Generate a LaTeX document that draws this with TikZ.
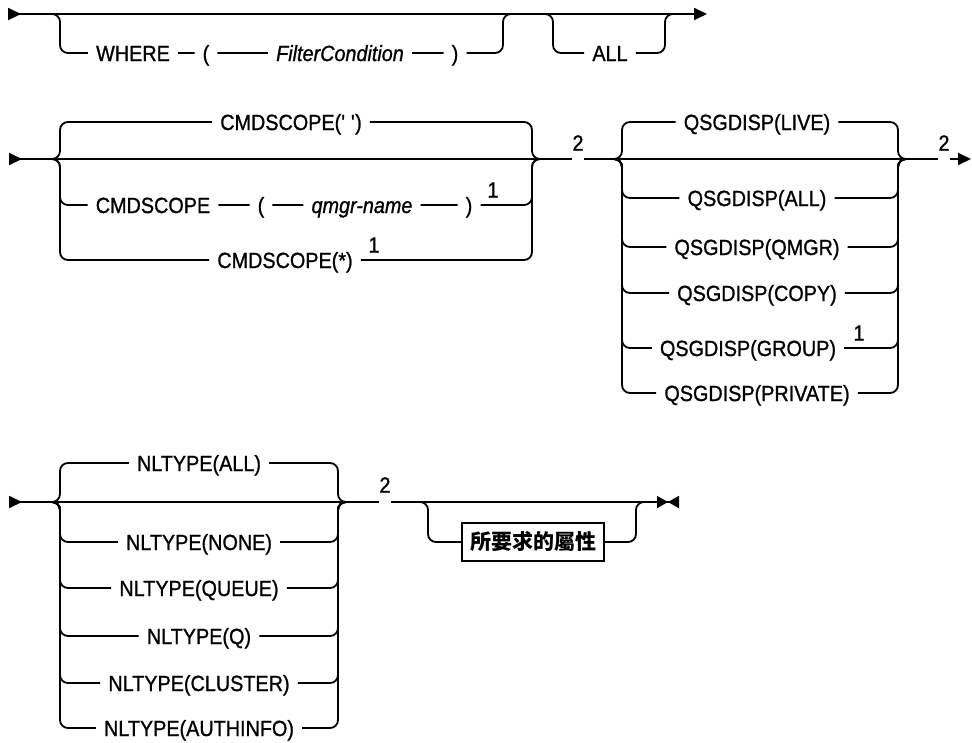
\documentclass[tikz,border=0pt]{standalone}
\usepackage{fontspec}
\setmainfont{Liberation Sans}
\newfontfamily\railfont{Liberation Sans}[FakeStretch=0.9, FakeBold=1]
\newfontfamily\cjk{Noto Sans CJK TC}
\usetikzlibrary{arrows.meta}

\tikzset{
  rail/.style={line width=1.8pt, rounded corners=8pt},
  kw/.style={font=\fontsize{22}{26}\selectfont\railfont, inner xsep=8pt, inner ysep=0pt,
    text height=16pt, text depth=0pt},
  var/.style={kw, font=\fontsize{22}{26}\selectfont\railfont\itshape},
  num/.style={font=\fontsize{22}{26}\selectfont\railfont, inner sep=0pt},
  gap/.style={inner sep=0pt, minimum width=11pt, minimum height=0pt},
  attrbox/.style={draw, line width=1.8pt, font=\fontsize{21}{24}\selectfont\cjk\bfseries,
    inner xsep=8pt, inner ysep=0pt, text height=17pt, text depth=3pt, minimum height=38pt},
}

\begin{document}
\begin{tikzpicture}[x=1pt,y=-1pt,>={Triangle[length=13pt,width=12pt]}]
  \useasboundingbox (0,0) rectangle (972,742);

  % first line: WHERE and ALL
  \coordinate (s1) at (8,14);
  \coordinate (e1) at (707,14);
  \coordinate (wL) at (60,14);
  \coordinate (wR) at (503,14);
  \coordinate (aL) at (553,14);
  \coordinate (aR) at (665,14);
  \node[kw] (where) at (133,53) {WHERE};
  \node[kw] (wopen) at (206,53) {(};
  \node[var] (filter) at (340,53) {FilterCondition};
  \node[kw] (wclose) at (455,53) {)};
  \node[kw] (all) at (610,53) {ALL};
  \draw[rail,>->] (s1) -- (e1);
  \draw[rail] ([xshift=-10pt]wL) -- (wL) |- (where);
  \draw[rail] (where) -- (wopen) -- (filter) -- (wclose) -| (wR) -- ([xshift=10pt]wR);
  \draw[rail] ([xshift=-10pt]aL) -- (aL) |- (all) -| (aR) -- ([xshift=10pt]aR);

  % second line: CMDSCOPE and QSGDISP
  \coordinate (s2) at (9,159);
  \coordinate (cL) at (60,159);
  \coordinate (cR) at (532,159);
  \coordinate (qL) at (622,159);
  \coordinate (qR) at (898,159);
  \coordinate (e2) at (971,159);
  \node[gap] (g2a) at (578,159) {};
  \node[num] (t2a) at (578,143) {2};
  \node[gap] (g2b) at (944,159) {};
  \node[num] (t2b) at (944,143) {2};
  \draw[rail,>-] (s2) -- (g2a);
  \draw[rail] (g2a) -- (g2b);
  \draw[rail,->] (g2b) -- (e2);

  \node[kw] (cs0) at (291,122) {CMDSCOPE(\textquotesingle{} \textquotesingle)};
  \node[kw] (cs1) at (153,205) {CMDSCOPE};
  \node[kw] (cs1o) at (261,205) {(};
  \node[var] (qmgr) at (362,205) {qmgr-name};
  \node[kw] (cs1c) at (469,205) {)};
  \node[num] (t1a) at (493,190) {1};
  \node[kw] (cs2) at (285,260) {CMDSCOPE(*)};
  \node[num] (t1b) at (374,245) {1};
  \draw[rail] ([xshift=-10pt]cL) -- (cL) |- (cs0) -| (cR) -- ([xshift=10pt]cR);
  \draw[rail] ([xshift=-10pt]cL) -- (cL) |- (cs1);
  \draw[rail] (cs1) -- (cs1o) -- (qmgr) -- (cs1c) -| (cR) -- ([xshift=10pt]cR);
  \draw[rail] ([xshift=-10pt]cL) -- (cL) |- (cs2) -| (cR) -- ([xshift=10pt]cR);

  \node[kw] (q0) at (757,122) {QSGDISP(LIVE)};
  \node[kw] (q1) at (757,198) {QSGDISP(ALL)};
  \node[kw] (q2) at (757,247) {QSGDISP(QMGR)};
  \node[kw] (q3) at (757,293) {QSGDISP(COPY)};
  \node[kw] (q4) at (748,348) {QSGDISP(GROUP)};
  \node[num] (t1c) at (859,333) {1};
  \node[kw] (q5) at (757,393) {QSGDISP(PRIVATE)};
  \draw[rail] ([xshift=-10pt]qL) -- (qL) |- (q0) -| (qR) -- ([xshift=10pt]qR);
  \draw[rail] ([xshift=-10pt]qL) -- (qL) |- (q1) -| (qR) -- ([xshift=10pt]qR);
  \draw[rail] ([xshift=-10pt]qL) -- (qL) |- (q2) -| (qR) -- ([xshift=10pt]qR);
  \draw[rail] ([xshift=-10pt]qL) -- (qL) |- (q3) -| (qR) -- ([xshift=10pt]qR);
  \draw[rail] ([xshift=-10pt]qL) -- (qL) |- (q4) -| (qR) -- ([xshift=10pt]qR);
  \draw[rail] ([xshift=-10pt]qL) -- (qL) |- (q5) -| (qR) -- ([xshift=10pt]qR);

  % third line: NLTYPE and attributes
  \coordinate (s3) at (9,502);
  \coordinate (nL) at (60,502);
  \coordinate (nR) at (338,502);
  \coordinate (oL) at (428,502);
  \coordinate (oR) at (636,502);
  \coordinate (e3) at (679,502);
  \node[gap] (g2c) at (385,502) {};
  \node[num] (t2c) at (385,485) {2};
  \draw[rail,>-] (s3) -- (g2c);
  \draw[rail,-{Triangle[length=11pt,width=12pt,sep=0pt]Triangle[reversed,length=11pt,width=12pt]}] (g2c) -- (e3);

  \node[kw] (n0) at (199,463) {NLTYPE(ALL)};
  \node[kw] (n1) at (199,542) {NLTYPE(NONE)};
  \node[kw] (n2) at (199,588) {NLTYPE(QUEUE)};
  \node[kw] (n3) at (199,636) {NLTYPE(Q)};
  \node[kw] (n4) at (199,683) {NLTYPE(CLUSTER)};
  \node[kw] (n5) at (199,728) {NLTYPE(AUTHINFO)};
  \draw[rail] ([xshift=-10pt]nL) -- (nL) |- (n0) -| (nR) -- ([xshift=10pt]nR);
  \draw[rail] ([xshift=-10pt]nL) -- (nL) |- (n1) -| (nR) -- ([xshift=10pt]nR);
  \draw[rail] ([xshift=-10pt]nL) -- (nL) |- (n2) -| (nR) -- ([xshift=10pt]nR);
  \draw[rail] ([xshift=-10pt]nL) -- (nL) |- (n3) -| (nR) -- ([xshift=10pt]nR);
  \draw[rail] ([xshift=-10pt]nL) -- (nL) |- (n4) -| (nR) -- ([xshift=10pt]nR);
  \draw[rail] ([xshift=-10pt]nL) -- (nL) |- (n5) -| (nR) -- ([xshift=10pt]nR);

  \node[attrbox] (attrs) at (533,542) {所要求的屬性};
  \draw[rail] ([xshift=-10pt]oL) -- (oL) |- (attrs) -| (oR) -- ([xshift=10pt]oR);
\end{tikzpicture}
\end{document}
